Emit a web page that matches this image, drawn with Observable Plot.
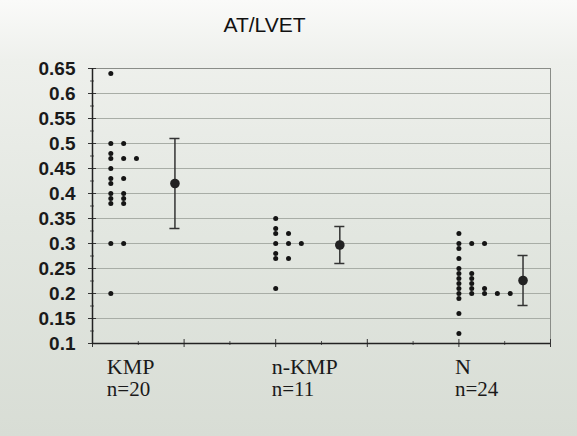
<!DOCTYPE html>
<html>
<head>
<meta charset="utf-8">
<script src="https://cdn.jsdelivr.net/npm/d3@7"></script>
<script src="https://cdn.jsdelivr.net/npm/@observablehq/plot@0.6"></script>
<style>
  html, body { margin: 0; padding: 0; }
  body {
    width: 577px; height: 436px; overflow: hidden;
    background: linear-gradient(#fafaf9 0%, #eef0ec 14%, #e3e7e1 50%, #d8ddd5 100%);
  }
</style>
</head>
<body>
<div id="chart"></div>
<script>
// ---- data ----
const title = "AT/LVET";
const groups = ["KMP", "n-KMP", "N"];
const counts = ["n=20", "n=11", "n=24"];
const groupX = [0.4, 4.0, 8.0];      // x of first dot column of each group (axis units 0..10)
const meanX = [1.8, 5.4, 9.4];       // x of mean ± SD marker
const kmpValues = [0.64, 0.50, 0.48, 0.47, 0.45, 0.43, 0.42, 0.40, 0.39, 0.38, 0.30, 0.20,
                   0.50, 0.47, 0.43, 0.40, 0.39, 0.38, 0.30,
                   0.47];
const nkmpValues = [0.35, 0.33, 0.32, 0.30, 0.28, 0.27, 0.21,
                    0.32, 0.30, 0.27,
                    0.30];
const nValues = [0.32, 0.30, 0.29, 0.27, 0.25, 0.24, 0.23, 0.22, 0.21, 0.20, 0.19, 0.16, 0.12,
                 0.30, 0.24, 0.23, 0.22, 0.21, 0.20,
                 0.30, 0.21, 0.20,
                 0.20,
                 0.20];
const means = [0.42, 0.297, 0.226];
const sds = [0.09, 0.037, 0.05];
const yTicks = [0.1, 0.15, 0.2, 0.25, 0.3, 0.35, 0.4, 0.45, 0.5, 0.55, 0.6, 0.65];
const yMinor = [0.125, 0.175, 0.225, 0.275, 0.325, 0.375, 0.425, 0.475, 0.525, 0.575, 0.625];
const xMajor = [0, 2, 4, 6, 8, 10];
const xMinor = [1, 3, 5, 7, 9];

// ---- derived tables ----
const step = 0.28; // horizontal offset for repeated values
const allValues = [kmpValues, nkmpValues, nValues];
const dots = [];
allValues.forEach((vals, gi) => {
  const seen = new Map();
  vals.forEach(v => {
    const k = v.toFixed(3);
    const r = seen.get(k) || 0;
    seen.set(k, r + 1);
    dots.push({group: groups[gi], x: groupX[gi] + r * step, y: v});
  });
});
const stats = groups.map((g, i) => ({group: g, x: meanX[i], mean: means[i], lo: means[i] - sds[i], hi: means[i] + sds[i]}));
const labels = groups.map((g, i) => ({name: g, count: counts[i], x: groupX[i]}));
const cap = 0.11;

const blank = () => "";
const serif = "'Liberation Serif', 'Times New Roman', serif";
const chart = Plot.plot({
  width: 577,
  height: 436,
  marginTop: 68,
  marginBottom: 93,
  marginLeft: 92,
  marginRight: 27,
  x: {domain: [0, 10]},
  y: {domain: [0.1, 0.65]},
  style: {background: "transparent", fontFamily: "'Liberation Sans', Arial, sans-serif", color: "#1a1a1a", overflow: "visible"},
  marks: [
    Plot.gridY({ticks: yTicks, stroke: "#a8ada6", strokeOpacity: 1, strokeWidth: 1}),
    Plot.frame({stroke: "#8a8d88", strokeWidth: 1}),
    Plot.axisY({ticks: yTicks, tickSize: 0, tickPadding: 17, label: null, fontSize: 19, fontWeight: "bold",
                tickFormat: d => String(+d.toFixed(2))}),
    Plot.axisY({ticks: yTicks, tickSize: 8, dx: 4, label: null, tickFormat: blank, stroke: "#333"}),
    Plot.axisY({ticks: yMinor, tickSize: 4, dx: 2, label: null, tickFormat: blank, stroke: "#555"}),
    Plot.axisX({ticks: xMajor, tickSize: 8, dy: -4, label: null, tickFormat: blank, stroke: "#333"}),
    Plot.axisX({ticks: xMinor, tickSize: 4, dy: -2, label: null, tickFormat: blank, stroke: "#555"}),
    Plot.ruleX([0], {stroke: "#222", strokeWidth: 1.5}),
    Plot.ruleY([0.1], {stroke: "#222", strokeWidth: 1.5}),
    Plot.dot(dots, {x: "x", y: "y", r: 2.5, fill: "#151515", stroke: null}),
    Plot.ruleX(stats, {x: "x", y1: "lo", y2: "hi", stroke: "#333", strokeWidth: 1.5}),
    Plot.ruleY(stats, {y: "hi", x1: d => d.x - cap, x2: d => d.x + cap, stroke: "#333", strokeWidth: 1.5}),
    Plot.ruleY(stats, {y: "lo", x1: d => d.x - cap, x2: d => d.x + cap, stroke: "#333", strokeWidth: 1.5}),
    Plot.dot(stats, {x: "x", y: "mean", r: 4.8, fill: "#222", stroke: null}),
    Plot.text(labels, {x: "x", text: "name", frameAnchor: "bottom", dy: 23, dx: -4, textAnchor: "start", lineAnchor: "middle",
                       fontFamily: serif, fontSize: 22, fill: "#1a1a1a"}),
    Plot.text(labels, {x: "x", text: "count", frameAnchor: "bottom", dy: 46, dx: -4, textAnchor: "start", lineAnchor: "middle",
                       fontFamily: serif, fontSize: 21, fill: "#1a1a1a"}),
    Plot.text([title], {frameAnchor: "top", dx: -57, dy: -43, lineAnchor: "middle", fontSize: 21, fill: "#111",
                        fontFamily: "'Liberation Sans', Arial, sans-serif"})
  ]
});
document.getElementById("chart").appendChild(chart);
</script>
</body>
</html>
